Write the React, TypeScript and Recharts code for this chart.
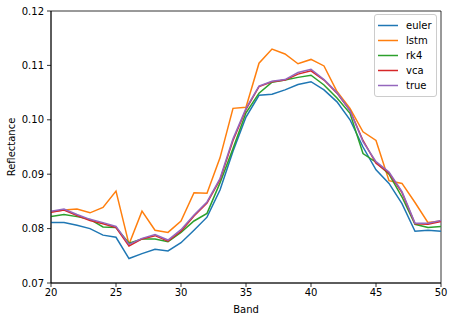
import React from 'react';
import { LineChart, Line, XAxis, YAxis, Legend, ReferenceArea, Label } from 'recharts';

const bands = [20,21,22,23,24,25,26,27,28,29,30,31,32,33,34,35,36,37,38,39,40,41,42,43,44,45,46,47,48,49,50];
const euler = [0.0811,0.0811,0.0806,0.0800,0.0788,0.0784,0.0745,0.0754,0.0762,0.0759,0.0774,0.0797,0.0821,0.0871,0.0942,0.1005,0.1045,0.1047,0.1055,0.1065,0.1070,0.1055,0.1033,0.1000,0.0950,0.0908,0.0883,0.0846,0.0795,0.0797,0.0795];
const lstm = [0.0831,0.0834,0.0836,0.0829,0.0839,0.0869,0.0771,0.0832,0.0797,0.0793,0.0814,0.0866,0.0865,0.0930,0.1021,0.1023,0.1104,0.1130,0.1121,0.1103,0.1111,0.1099,0.1052,0.1021,0.0978,0.0962,0.0888,0.0883,0.0848,0.0811,0.0814];
const rk4 = [0.0822,0.0826,0.0822,0.0817,0.0803,0.0802,0.0773,0.0781,0.0781,0.0776,0.0793,0.0814,0.0828,0.0884,0.0947,0.1013,0.1049,0.1069,0.1073,0.1078,0.1082,0.1064,0.1040,0.1012,0.0938,0.0922,0.0900,0.0858,0.0808,0.0802,0.0804];
const vca = [0.0830,0.0834,0.0824,0.0815,0.0809,0.0802,0.0768,0.0781,0.0787,0.0777,0.0795,0.0823,0.0847,0.0890,0.0962,0.1019,0.1061,0.1070,0.1073,0.1084,0.1090,0.1073,0.1049,0.1017,0.0962,0.0920,0.0902,0.0866,0.0809,0.0808,0.0813];
const trueVals = [0.0832,0.0836,0.0826,0.0817,0.0811,0.0804,0.0771,0.0782,0.0789,0.0779,0.0798,0.0825,0.0849,0.0892,0.0965,0.1021,0.1062,0.1071,0.1074,0.1087,0.1093,0.1074,0.1050,0.1017,0.0960,0.0923,0.0904,0.0868,0.0810,0.0810,0.0815];

const xTicks = [20,25,30,35,40,45,50];
const yTicks = [0.07,0.08,0.09,0.10,0.11,0.12];

const seriesNames = ['euler','lstm','rk4','vca','true'];
const seriesColors = ['#1f77b4','#ff7f0e','#2ca02c','#d62728','#9467bd'];
const seriesValues = [euler, lstm, rk4, vca, trueVals];

const data = bands.map((b, i) => {
  const row: any = { band: b };
  seriesNames.forEach((n, j) => { row[n] = seriesValues[j][i]; });
  return row;
});

const FONT = 'DejaVu Sans';

const renderLegend = () => (
  <div style={{
    width: 61, height: 78, border: '1px solid #cccccc', borderRadius: 3,
    background: 'rgba(255,255,255,0.8)', boxSizing: 'content-box',
    paddingTop: 3, fontFamily: FONT, fontSize: 10, color: '#000'
  }}>
    {seriesNames.map((n, j) => (
      <div key={n} style={{ height: 15, display: 'flex', alignItems: 'center' }}>
        <svg width={23} height={15} style={{ display: 'block' }}>
          <line x1={3} x2={23} y1={7.5} y2={7.5} stroke={seriesColors[j]} strokeWidth={1.5} />
        </svg>
        <span style={{ marginLeft: 8, lineHeight: '15px' }}>{n}</span>
      </div>
    ))}
  </div>
);

export default function App() {
  return (
    <div style={{ position: 'absolute', left: 0, top: 0, width: 454, height: 321, background: '#fff' }}>
      <LineChart width={454} height={321} data={data} margin={{ top: 11, right: 13, bottom: 0, left: 0 }}>
        <XAxis
          dataKey="band" type="number" domain={[20, 50]} ticks={xTicks} allowDataOverflow
          height={38} tickSize={4} tickMargin={2}
          tick={{ fontFamily: FONT, fontSize: 10, fill: '#000' }}
          axisLine={{ stroke: '#000', strokeWidth: 0.8 }} tickLine={{ stroke: '#000', strokeWidth: 0.8 }}
        >
          <Label value="Band" position="insideBottom" offset={8} style={{ fontFamily: FONT, fontSize: 10, fill: '#000' }} />
        </XAxis>
        <YAxis
          type="number" domain={[0.07, 0.12]} ticks={yTicks} allowDataOverflow
          width={51} tickSize={4} tickMargin={3}
          tickFormatter={(v: number) => v.toFixed(2)}
          tick={{ fontFamily: FONT, fontSize: 10, fill: '#000' }}
          axisLine={{ stroke: '#000', strokeWidth: 0.8 }} tickLine={{ stroke: '#000', strokeWidth: 0.8 }}
        >
          <Label
            content={(props: any) => {
              const vb = props.viewBox || {};
              const cy = (vb.y || 0) + (vb.height || 0) / 2;
              return (
                <text x={15} y={cy} transform={`rotate(-90, 15, ${cy})`} textAnchor="middle"
                  style={{ fontFamily: FONT, fontSize: 10, fill: '#000' }}>Reflectance</text>
              );
            }}
          />
        </YAxis>
        <ReferenceArea x1={20} x2={50} y1={0.07} y2={0.12} fill="none" stroke="#000" strokeWidth={0.8} fillOpacity={0} />
        {seriesNames.map((n, j) => (
          <Line key={n} type="linear" dataKey={n} stroke={seriesColors[j]} strokeWidth={1.5}
            dot={false} activeDot={false} isAnimationActive={false} />
        ))}
        <Legend
          layout="horizontal" verticalAlign="middle" align="center"
          content={renderLegend}
          wrapperStyle={{ left: 374, top: 14, width: 63, height: 82 }}
        />
      </LineChart>
    </div>
  );
}
